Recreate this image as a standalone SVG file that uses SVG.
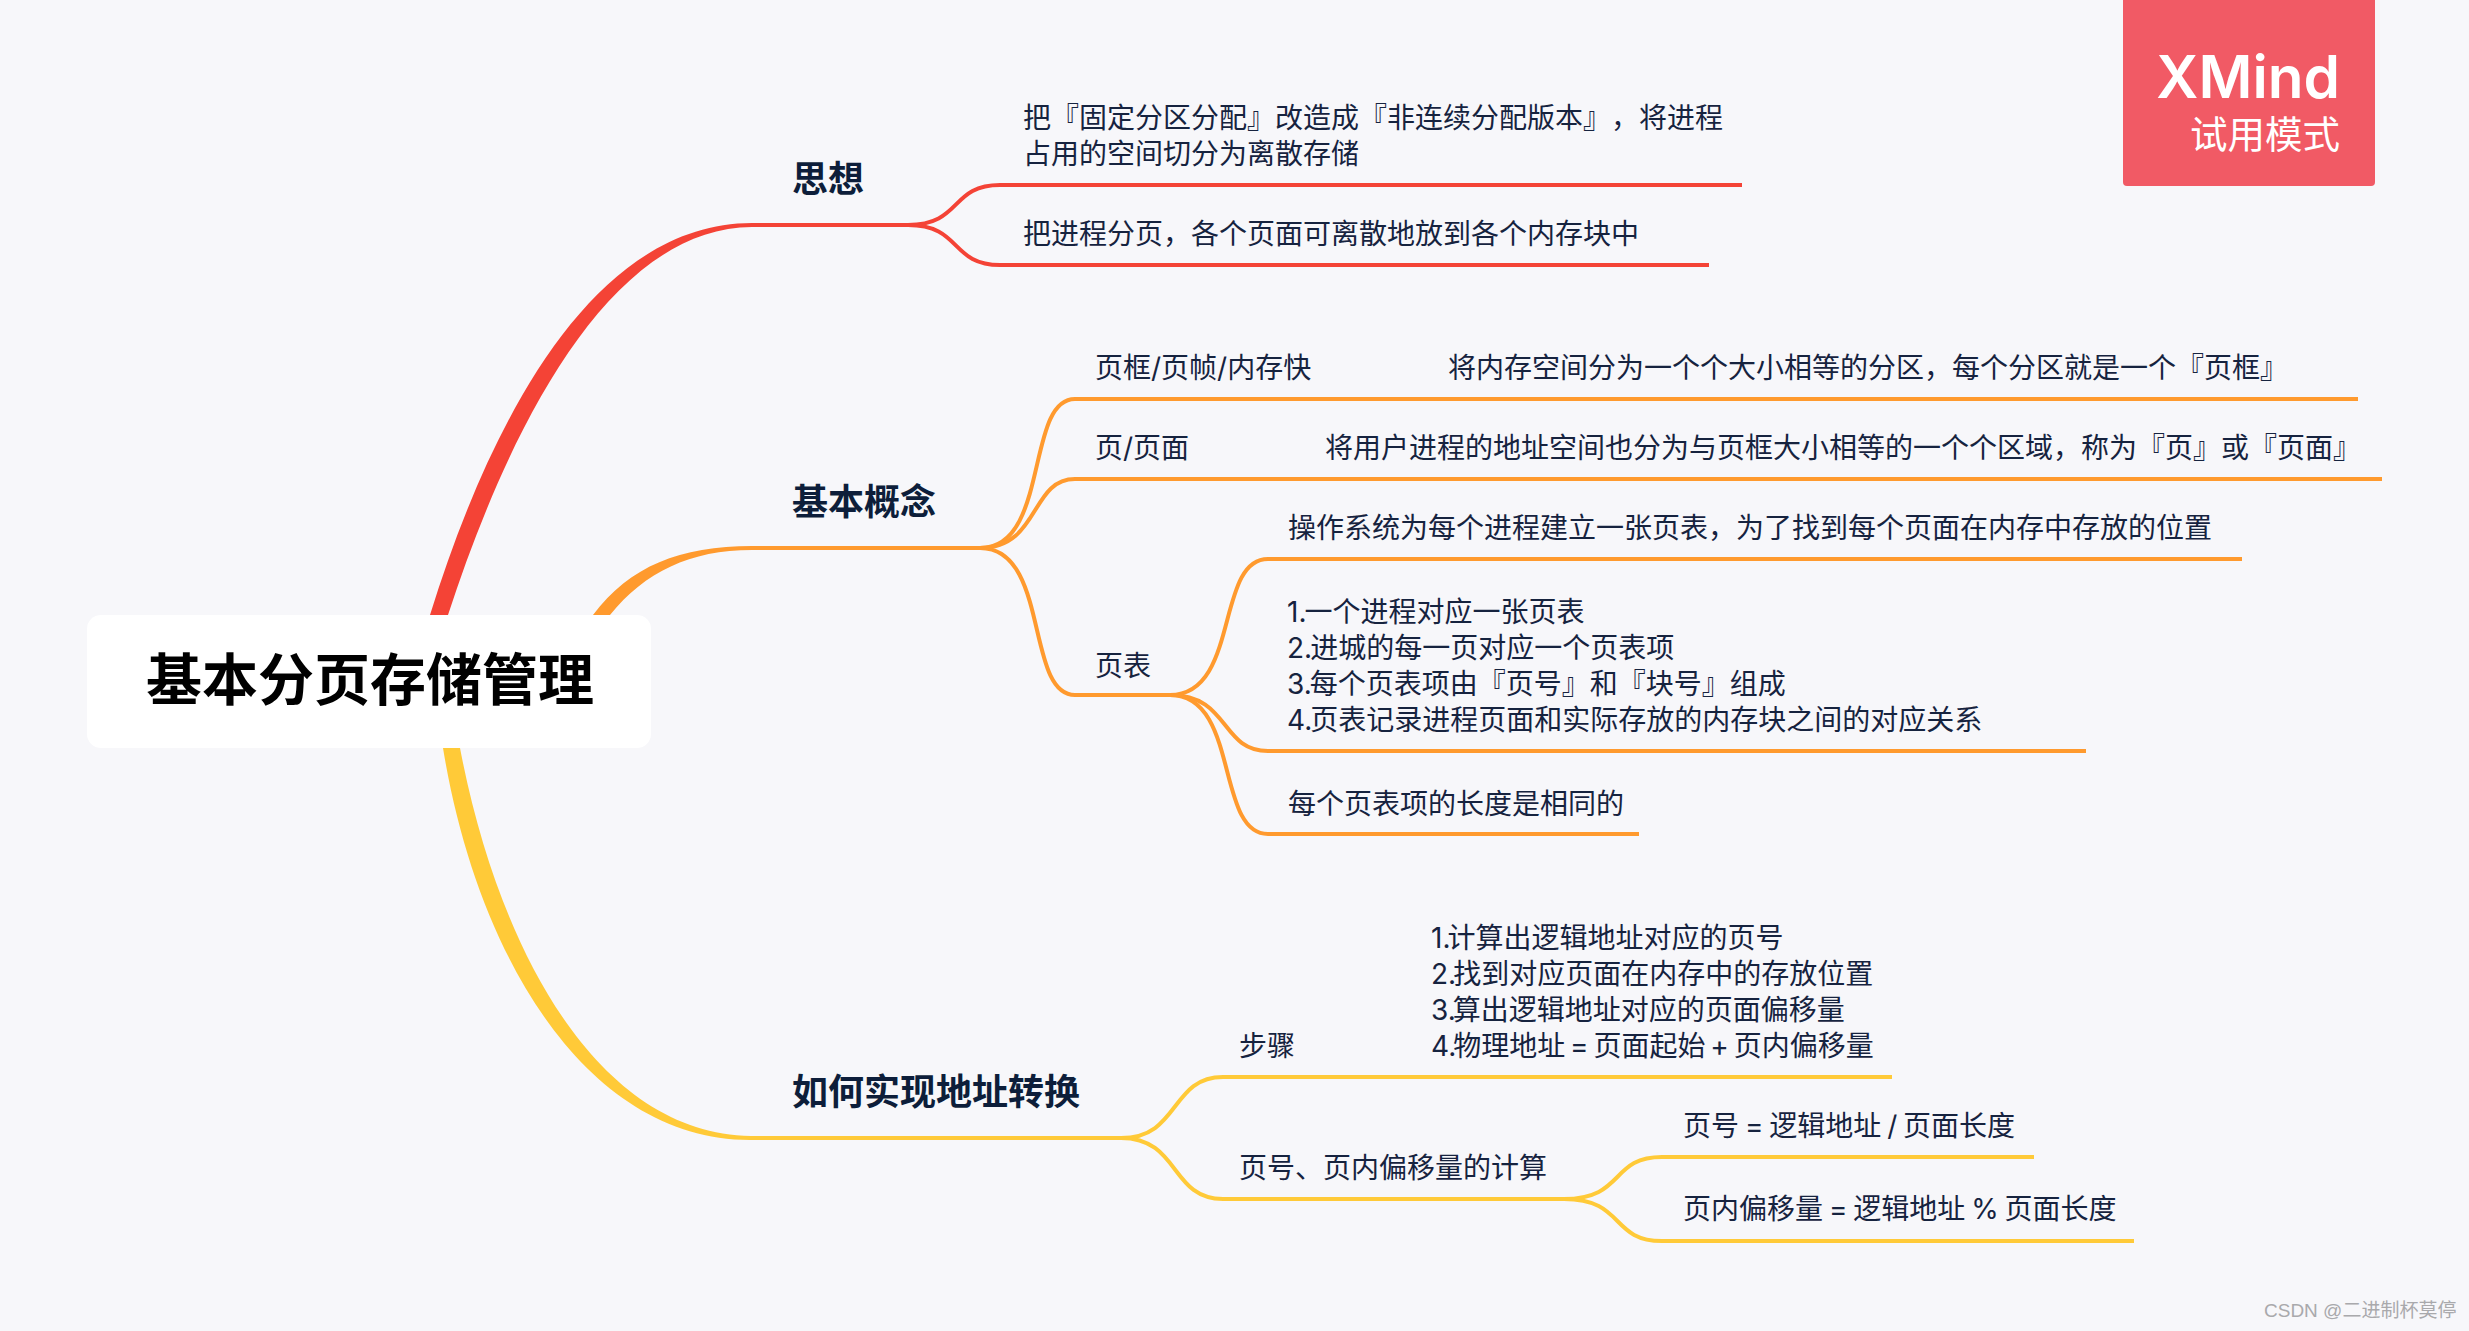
<svg xmlns="http://www.w3.org/2000/svg" width="2469" height="1331" viewBox="0 0 2469 1331">
<style>
text{font-family:"Inter","Noto Sans CJK SC",sans-serif;fill:#16233f;text-spacing-trim:space-all}
.t{font-size:28px}
.s{word-spacing:-2px}
.m{font-size:36px;font-weight:700;fill:#0d1e3a}
.r{font-size:56px;font-weight:700;fill:#000}
.w{fill:#fff;text-anchor:end}
.l{fill:none;stroke-width:4;stroke-linecap:butt}
.red{stroke:#f44336}.or{stroke:#ff9a2e}.ye{stroke:#ffca38}
</style>
<rect width="2469" height="1331" fill="#f7f7fa"/>
<g id="connectors">
<path fill="#f44336" d="M430 615C488 428 590 223 752 223V227C607 228 507 434 448 615Z"/>
<path fill="#ff9a2e" d="M593 615C630 566 680 546 752 546V550C690 550 645 572 610 615Z"/>
<path fill="#ffca38" d="M443 748C478 962 590 1141 751 1140V1136C601 1134 500 957 460 748Z"/>
<path class="l red" d="M752 225H908C962 225 950 185 1000 185H1742"/>
<path class="l red" d="M908 225C962 225 950 265 1000 265H1709"/>
<path class="l or" d="M752 548H980C1050 548 1025 399 1075 399H2358"/>
<path class="l or" d="M980 548C1040 548 1030 479 1075 479H2382"/>
<path class="l or" d="M980 548C1050 548 1025 695 1075 695H1170"/>
<path class="l or" d="M1170 695C1240 695 1215 559 1268 559H2242"/>
<path class="l or" d="M1170 695C1230 695 1220 751 1268 751H2086"/>
<path class="l or" d="M1170 695C1240 695 1215 834 1268 834H1639"/>
<path class="l ye" d="M751 1138H1121C1180 1138 1170 1077 1223 1077H1892"/>
<path class="l ye" d="M1121 1138C1180 1138 1170 1199 1223 1199H1564"/>
<path class="l ye" d="M1564 1199C1625 1199 1610 1157 1662 1157H2034"/>
<path class="l ye" d="M1564 1199C1625 1199 1610 1241 1662 1241H2134"/>
</g>
<g id="root"><rect x="87" y="615" width="564" height="133" rx="14" fill="#fff"/><text class="r" x="146" y="700">基本分页存储管理</text></g>
<g id="n-sixiang"><text class="m" x="792" y="192">思想</text></g>
<g id="n-s1"><text class="t" x="1023" y="128">把『固定分区分配』改造成『非连续分配版本』，将进程</text><text class="t" x="1023" y="164">占用的空间切分为离散存储</text></g>
<g id="n-s2"><text class="t" x="1023" y="244">把进程分页，各个页面可离散地放到各个内存块中</text></g>
<g id="n-gainian"><text class="m" x="792" y="515">基本概念</text></g>
<g id="n-g1"><text class="t" x="1095" y="378">页框/页帧/内存快</text></g>
<g id="n-g1a"><text class="t" x="1448" y="378">将内存空间分为一个个大小相等的分区，每个分区就是一个『页框』</text></g>
<g id="n-g2"><text class="t" x="1095" y="458">页/页面</text></g>
<g id="n-g2a"><text class="t" x="1325" y="458">将用户进程的地址空间也分为与页框大小相等的一个个区域，称为『页』或『页面』</text></g>
<g id="n-g3"><text class="t" x="1095" y="676">页表</text></g>
<g id="n-g3a"><text class="t" x="1288" y="538">操作系统为每个进程建立一张页表，为了找到每个页面在内存中存放的位置</text></g>
<g id="n-g3b"><text class="t" x="1287" y="622">1.<tspan dx="-2">一个进程对应一张页表</tspan></text><text class="t" x="1287" y="658">2.<tspan dx="-2">进城的每一页对应一个页表项</tspan></text><text class="t" x="1287" y="694">3.<tspan dx="-2">每个页表项由『页号』和『块号』组成</tspan></text><text class="t" x="1287" y="730">4.<tspan dx="-2">页表记录进程页面和实际存放的内存块之间的对应关系</tspan></text></g>
<g id="n-g3c"><text class="t" x="1288" y="814">每个页表项的长度是相同的</text></g>
<g id="n-zhuanhuan"><text class="m" x="792" y="1105">如何实现地址转换</text></g>
<g id="n-z1"><text class="t" x="1239" y="1056">步骤</text></g>
<g id="n-z1a"><text class="t" x="1431" y="948">1.<tspan dx="-3">计算出逻辑地址对应的页号</tspan></text><text class="t" x="1431" y="984">2.<tspan dx="-3">找到对应页面在内存中的存放位置</tspan></text><text class="t" x="1431" y="1020">3.<tspan dx="-3">算出逻辑地址对应的页面偏移量</tspan></text><text class="t" style="word-spacing:-3px" x="1431" y="1056">4.<tspan dx="-3">物理地址 = 页面起始 + 页内偏移量</tspan></text></g>
<g id="n-z2"><text class="t" x="1239" y="1178">页号、页内偏移量的计算</text></g>
<g id="n-z2a"><text class="t s" x="1683" y="1136">页号 = 逻辑地址 / 页面长度</text></g>
<g id="n-z2b"><text class="t s" x="1683" y="1219">页内偏移量 = 逻辑地址 % 页面长度</text></g>
<g id="badge"><path d="M2123 0H2375V182a4 4 0 0 1-4 4H2127a4 4 0 0 1-4-4Z" fill="#f15a65"/><text class="w" x="2340" y="98" font-size="58.500" font-weight="600">XMind</text><text class="w" x="2340" y="148" font-size="37.500">试用模式</text></g>
<text x="2264" y="1317" font-size="19" style="fill:#a9a9ac;font-family:'Liberation Sans','Noto Sans CJK SC',sans-serif">CSDN @二进制杯莫停</text>
</svg>
